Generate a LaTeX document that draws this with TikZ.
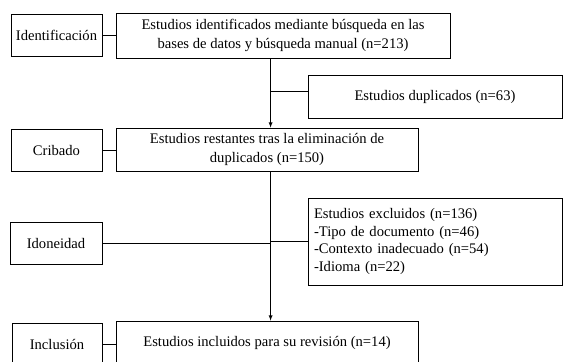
\documentclass[tikz,border=0pt]{standalone}
\usepackage{fontspec}
\setmainfont{Liberation Serif}
\usepackage{tikz}
\usetikzlibrary{calc}

\begin{document}
\begin{tikzpicture}[
		x=1bp, y=-1bp,
		stagebox/.style={draw, line width=0.8bp, inner sep=0pt, minimum width=91bp,
		minimum height=42bp, font=\fontsize{14.67}{18.5}\selectfont},
		mainbox/.style={draw, line width=0.8bp, inner sep=0pt, align=center,
		font=\fontsize{14.67}{19.5}\selectfont},
		sidebox/.style={draw, line width=0.8bp, inner sep=0pt, minimum width=254bp,
		font=\fontsize{14.67}{17.5}\selectfont},
		link/.style={line width=0.8bp},
		>=latex
		]
		\useasboundingbox (0,0) rectangle (564,361);
		
		\node[stagebox](L1) at (56.5,35){Identificación};
		\node[mainbox, minimum width=334bp, minimum height=45bp](C1) at (283,35.5)
		{Estudios identificados mediante búsqueda en las\\bases de datos y búsqueda manual (n=213)};
		\draw[link] (L1) -- (L1 -| C1.west);
		
		\node[sidebox, minimum height=43bp](D1) at (435,96.5){Estudios duplicados (n=63)};
		
		\node[stagebox](L2) at (56.5,150){Cribado};
		\node[mainbox, minimum width=302bp, minimum height=43bp](C2) at (267,149.5)
		{Estudios restantes tras la eliminación de\\duplicados (n=150)};
		\draw[link] (L2) -- (L2 -| C2.west);
		
		\coordinate (A1) at ($(C1.south west)+(155,0)$);
		\draw[link,->] (A1) -- (A1 |- C2.north);
		\draw[link] ($(A1 |- D1.west)+(0,-5.5)$) -- ($(D1.west)+(0,-5.5)$);
		
		\node[stagebox, minimum width=92bp](L3) at (56,243){Idoneidad};
		\node[sidebox, minimum height=87bp, text width=242bp, align=left](D2) at (435,241.5)
		{Estudios excluidos (n=136)\\-Tipo de documento (n=46)\\-Contexto inadecuado (n=54)\\-Idioma (n=22)};
		
		\node[stagebox, minimum width=90bp](L4) at (57,344){Inclusión};
		\node[mainbox, minimum width=302bp, minimum height=44bp](C3) at (267,343)
		{Estudios incluidos para su revisión (n=14)};
		\draw[link] (L4) -- (L4 -| C3.west);
		
		\coordinate (A2) at ($(C2.south west)+(155,0)$);
		\draw[link,->] (A2) -- (A2 |- C3.north);
		\draw[link] (L3) -- (L3 -| A2);
		\draw[link] (A2 |- D2.west) -- (D2.west);
	\end{tikzpicture}
\end{document}
